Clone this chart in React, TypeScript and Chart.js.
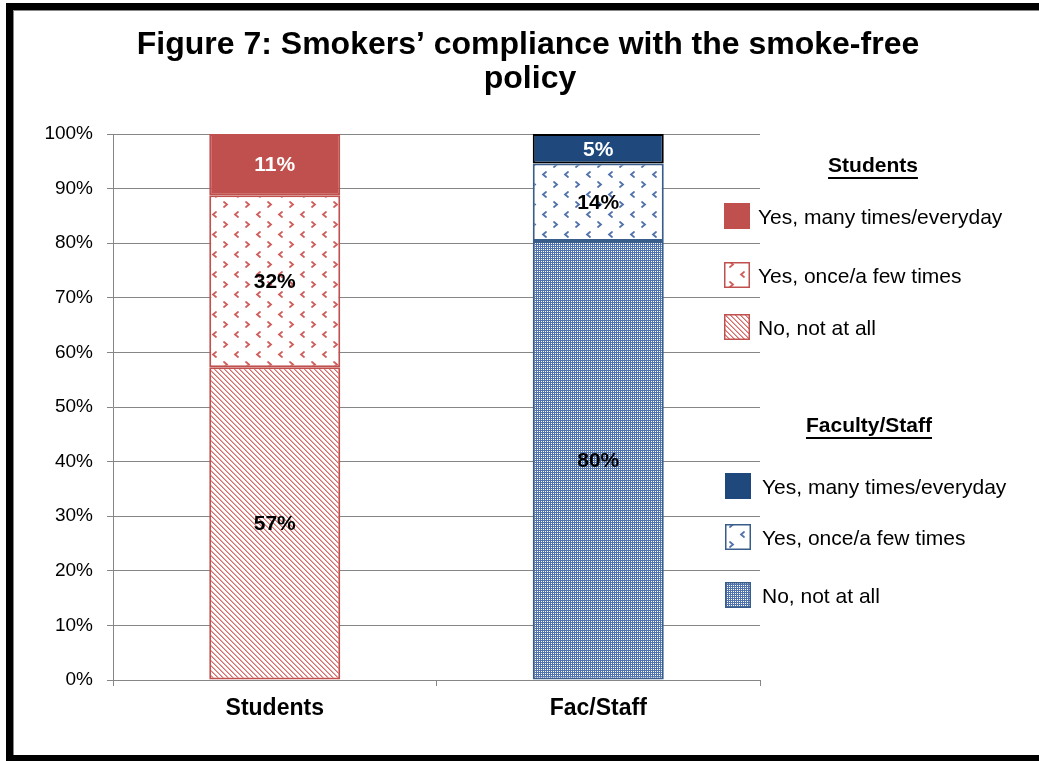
import React, { useEffect, useRef } from 'react';
import { Chart, registerables } from 'chart.js';

Chart.register(...registerables);

// ---------- data ----------
const categories = ['Students', 'Fac/Staff'];
const seriesNames = ['No, not at all', 'Yes, once/a few times', 'Yes, many times/everyday'];
const noNotAtAll = [57.3, 80.4];
const onceFewTimes = [31.5, 14.2];
const manyTimes = [11.2, 5.4];
const titleLines = ['Figure 7: Smokers\u2019 compliance with the smoke-free', 'policy'];
const legendGroups = ['Students', 'Faculty/Staff'];

// ---------- style ----------
const W = 1039;
const H = 761;
const FONT = '"Liberation Sans", Arial, sans-serif';
const RED = '#C0504D';
const NAVY = '#1F497D';
const BLUE_BORDER = '#385D8A';

function makePattern(w: number, h: number, draw: (g: CanvasRenderingContext2D) => void) {
  const c = document.createElement('canvas');
  c.width = w;
  c.height = h;
  const g = c.getContext('2d') as CanvasRenderingContext2D;
  draw(g);
  return g.createPattern(c, 'repeat') as CanvasPattern;
}

function hatchPattern() {
  return makePattern(5, 5, (g) => {
    g.fillStyle = '#fff';
    g.fillRect(0, 0, 5, 5);
    for (let y = 0; y < 5; y++) {
      for (let x = 0; x < 5; x++) {
        const d = (((x - y) % 5) + 5) % 5;
        if (d === 0) {
          g.fillStyle = '#D46C6A';
          g.fillRect(x, y, 1, 1);
        } else if (d === 1) {
          g.fillStyle = '#E9A9A8';
          g.fillRect(x, y, 1, 1);
        }
      }
    }
  });
}

function chevronPattern(color: string) {
  return makePattern(22, 20, (g) => {
    g.fillStyle = '#fff';
    g.fillRect(0, 0, 22, 20);
    g.strokeStyle = color;
    g.lineWidth = 1.8;
    g.lineCap = 'round';
    g.beginPath();
    g.moveTo(4, 2);
    g.lineTo(7, 4.5);
    g.lineTo(4, 7);
    g.stroke();
    g.beginPath();
    g.moveTo(18, 12);
    g.lineTo(15, 14.5);
    g.lineTo(18, 17);
    g.stroke();
  });
}

function dotPattern() {
  return makePattern(2, 2, (g) => {
    g.fillStyle = '#5274AE';
    g.fillRect(0, 0, 2, 2);
    g.fillStyle = '#fff';
    g.fillRect(1, 1, 1, 1);
  });
}

export default function App() {
  const ref = useRef<HTMLCanvasElement | null>(null);

  useEffect(() => {
    const canvas = ref.current;
    if (!canvas) return;

    const redHatch = hatchPattern();
    const redChev = chevronPattern('#CF5F5C');
    const blueChev = chevronPattern('#5172AA');
    const blueDots = dotPattern();

    const fills = [
      [redHatch, blueDots],
      [redChev, blueChev],
      [RED, NAVY],
    ];
    const borders = [
      [RED, BLUE_BORDER],
      [RED, BLUE_BORDER],
      [RED, '#000000'],
    ];
    const labelColors = [
      ['#000', '#000'],
      ['#000', '#000'],
      ['#fff', '#fff'],
    ];
    const seriesValues = [noNotAtAll, onceFewTimes, manyTimes];

    const framePlugin = {
      id: 'frame',
      beforeDraw(chart: any) {
        const ctx = chart.ctx as CanvasRenderingContext2D;
        ctx.save();
        ctx.fillStyle = '#fff';
        ctx.fillRect(0, 0, W, H);
        ctx.fillStyle = '#000';
        ctx.fillRect(7, 3, W - 7, 7);
        ctx.fillRect(6, 3, 7, H - 3);
        ctx.fillRect(7, 755, W - 7, 6);
        ctx.fillStyle = '#888';
        ctx.fillRect(13, 10, W - 13, 1);
        ctx.fillRect(13, 10, 1, 745);
        ctx.restore();
      },
    };

    const labelPlugin = {
      id: 'segLabels',
      afterDatasetsDraw(chart: any) {
        const ctx = chart.ctx as CanvasRenderingContext2D;
        ctx.save();
        ctx.font = `bold 21px ${FONT}`;
        ctx.textAlign = 'center';
        ctx.textBaseline = 'middle';
        chart.data.datasets.forEach((ds: any, i: number) => {
          const meta = chart.getDatasetMeta(i);
          meta.data.forEach((el: any, j: number) => {
            const p = el.getProps(['x', 'y', 'base'], true);
            ctx.fillStyle = labelColors[i][j];
            ctx.fillText(Math.round(ds.data[j]) + '%', p.x, (p.y + p.base) / 2 + 1);
          });
        });
        ctx.restore();
      },
    };

    const decorPlugin = {
      id: 'decor',
      afterDraw(chart: any) {
        const ctx = chart.ctx as CanvasRenderingContext2D;
        ctx.save();
        // title
        ctx.fillStyle = '#000';
        ctx.font = `bold 32px ${FONT}`;
        ctx.textAlign = 'center';
        ctx.textBaseline = 'middle';
        ctx.fillText(titleLines[0], 528, 45);
        ctx.fillText(titleLines[1], 530, 79);

        // legend
        const groups = [
          { header: legendGroups[0], hx: 873, hy: 166, sx: 724, tx: 758, col: 0, ys: [216, 275, 327] },
          { header: legendGroups[1], hx: 869, hy: 426, sx: 725, tx: 762, col: 1, ys: [486, 537, 595] },
        ];
        groups.forEach((g) => {
          ctx.font = `bold 21px ${FONT}`;
          ctx.textAlign = 'center';
          ctx.fillStyle = '#000';
          ctx.fillText(g.header, g.hx, g.hy);
          const hw = ctx.measureText(g.header).width;
          ctx.fillRect(g.hx - hw / 2, g.hy + 11, hw, 2);
          // legend order: top of stack first
          [2, 1, 0].forEach((si, k) => {
            const cy = g.ys[k];
            const sz = 26;
            ctx.fillStyle = fills[si][g.col] as any;
            ctx.fillRect(g.sx, cy - sz / 2, sz, sz);
            ctx.strokeStyle = borders[si][g.col] === '#000000' ? NAVY : borders[si][g.col];
            ctx.lineWidth = 1.5;
            ctx.strokeRect(g.sx + 0.75, cy - sz / 2 + 0.75, sz - 1.5, sz - 1.5);
            ctx.font = `21px ${FONT}`;
            ctx.textAlign = 'left';
            ctx.fillStyle = '#000';
            ctx.fillText(seriesNames[si], g.tx, cy + 2);
          });
        });
        ctx.restore();
      },
    };

    const chart = new Chart(canvas, {
      type: 'bar',
      data: {
        labels: categories,
        datasets: seriesNames.map((name, i) => ({
          label: name,
          data: seriesValues[i],
          backgroundColor: fills[i] as any,
          borderColor: borders[i],
          borderWidth: 2,
          borderSkipped: false,
          categoryPercentage: 1,
          barPercentage: 0.405,
        })),
      },
      options: {
        responsive: false,
        animation: false,
        devicePixelRatio: 1,
        layout: { padding: { top: 134, right: 279, left: 0, bottom: 0 } },
        plugins: {
          legend: { display: false },
          title: { display: false },
          tooltip: { enabled: false },
        },
        scales: {
          x: {
            stacked: true,
            ticks: { font: { family: FONT, size: 23, weight: 'bold' }, color: '#000', padding: 9 },
            grid: { display: true, drawOnChartArea: false, drawTicks: true, tickLength: 6, color: '#868686', offset: true },
            border: { color: '#868686', width: 1 },
            afterFit: (s: any) => {
              s.height = 81;
            },
          },
          y: {
            stacked: true,
            min: 0,
            max: 100,
            ticks: {
              stepSize: 10,
              callback: (v: any) => v + '%',
              font: { family: FONT, size: 19 },
              color: '#000',
              padding: 14,
            },
            grid: { color: '#868686', tickLength: 6, lineWidth: 1 },
            border: { color: '#868686', width: 1 },
            afterFit: (s: any) => {
              s.width = 113;
            },
          },
        },
      },
      plugins: [framePlugin, labelPlugin, decorPlugin],
    } as any);

    return () => chart.destroy();
  }, []);

  return (
    <div style={{ position: 'fixed', left: 0, top: 0, width: W, height: H, background: '#fff' }}>
      <canvas ref={ref} width={W} height={H} style={{ width: W, height: H, display: 'block' }} />
    </div>
  );
}
